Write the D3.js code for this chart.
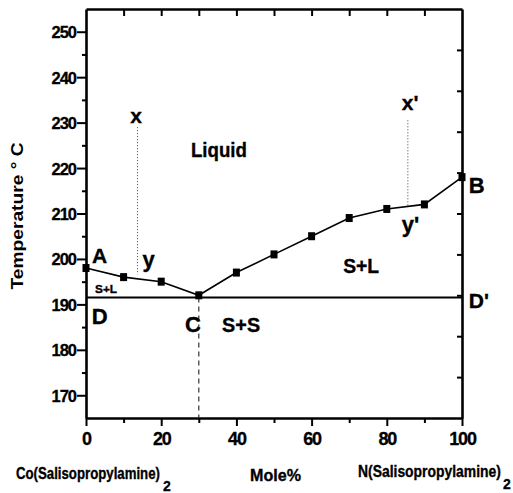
<!DOCTYPE html>
<html>
<head>
<meta charset="utf-8">
<script src="https://cdn.jsdelivr.net/npm/d3@7"></script>
<style>
  html, body { margin: 0; padding: 0; background: #fff; }
  svg { display: block; font-family: "Liberation Sans", Arial, sans-serif; font-weight: bold; }
</style>
</head>
<body>
<svg id="chart" width="513" height="493"></svg>
<script>
// ---- data ----
const molePct = [0, 10, 20, 30, 40, 50, 60, 70, 80, 90, 100];
const temps   = [198, 196, 195, 192, 197, 201, 205, 209, 211, 212, 218];
const eutecticT = 191.5;
const eutecticX = 30;
const xMajorTicks = [0, 20, 40, 60, 80, 100];
const xMinorTicks = [10, 30, 50, 70, 90];
const xTopTicks = [10, 20, 30, 40, 50, 60, 70, 80, 90];
const yMajorTicks = [170, 180, 190, 200, 210, 220, 230, 240, 250];
const yMinorTicks = [175, 185, 195, 205, 215, 225, 235, 245];
const rightTicks = [1, 2, 3, 4, 5, 6, 7, 8, 9];
const tieLeft  = { m: 13.7, t1: 229, t2: 196.6 };
const tieRight = { m: 85.6, t1: 230.5, t2: 211.6 };

// ---- layout ----
const margin = { left: 86, top: 9, right: 51, bottom: 75 };
const W = 513, H = 493;
const iw = W - margin.left - margin.right;   // 376
const ih = H - margin.top - margin.bottom;   // 409

const svg = d3.select("#chart");
const g = svg.append("g").attr("transform", `translate(${margin.left},${margin.top})`);

const x = d3.scaleLinear().domain([0, 100]).range([0, iw]);
const y = d3.scaleLinear().domain([165, 255]).range([ih, 0]);
const yR = d3.scaleLinear().domain([0, 10]).range([ih, 0]);

const AX_W = 2.6;

// squeeze a text horizontally to a target width (anchor start), using a transform
function fitText(parent, txt, x0, y0, fs, width, extra) {
  const t = parent.append("text").attr("x", 0).attr("y", 0)
    .attr("font-size", fs).attr("fill", "#000")
    .attr("stroke", "#000").attr("stroke-width", 0.35)
    .text(txt);
  const w = t.node().getComputedTextLength();
  const k = width / w;
  t.attr("transform", `translate(${x0},${y0}) scale(${k},1)`);
  return t;
}

// minor ticks
g.append("g").call(d3.axisLeft(y).tickValues(yMinorTicks).tickSize(4).tickSizeOuter(0).tickFormat(""))
  .call(s => s.select(".domain").remove())
  .selectAll("line").attr("stroke-width", 2);
g.append("g").attr("transform", `translate(0,${ih})`)
  .call(d3.axisBottom(x).tickValues(xMinorTicks).tickSize(5).tickSizeOuter(0).tickFormat(""))
  .call(s => s.select(".domain").remove())
  .selectAll("line").attr("stroke-width", 2);

// top axis (inward ticks)
g.append("g")
  .call(d3.axisTop(x).tickValues(xTopTicks).tickSize(-7).tickSizeOuter(0).tickFormat(""))
  .call(s => s.select(".domain").attr("stroke-width", AX_W))
  .selectAll("line").attr("stroke-width", 2);

// right axis (inward ticks)
g.append("g").attr("transform", `translate(${iw},0)`)
  .call(d3.axisRight(yR).tickValues(rightTicks).tickSize(-5).tickSizeOuter(0).tickFormat(""))
  .call(s => s.select(".domain").attr("stroke-width", AX_W))
  .selectAll("line").attr("stroke-width", 2);

// left axis
const yAx = g.append("g")
  .call(d3.axisLeft(y).tickValues(yMajorTicks).tickSize(9).tickPadding(1).tickSizeOuter(0));
yAx.select(".domain").attr("stroke-width", AX_W);
yAx.selectAll("line").attr("stroke-width", 2);
yAx.selectAll("text").attr("font-size", 16.5).attr("font-family", "Liberation Sans, Arial, sans-serif")
  .attr("font-weight", "bold").attr("letter-spacing", -1).attr("fill", "#000")
  .attr("stroke", "#000").attr("stroke-width", 0.3).attr("dy", "0.36em");

// bottom axis
const xAx = g.append("g").attr("transform", `translate(0,${ih})`)
  .call(d3.axisBottom(x).tickValues(xMajorTicks).tickSize(8).tickPadding(6).tickSizeOuter(0));
xAx.select(".domain").attr("stroke-width", AX_W);
xAx.selectAll("line").attr("stroke-width", 2);
xAx.selectAll("text").attr("font-size", 18).attr("font-family", "Liberation Sans, Arial, sans-serif")
  .attr("font-weight", "bold").attr("letter-spacing", -1.2).attr("fill", "#000")
  .attr("stroke", "#000").attr("stroke-width", 0.3);

// eutectic horizontal line
g.append("line")
  .attr("x1", x(0)).attr("x2", x(100))
  .attr("y1", y(eutecticT)).attr("y2", y(eutecticT))
  .attr("stroke", "#000").attr("stroke-width", 2);

// dashed vertical from C
g.append("line")
  .attr("x1", x(eutecticX)).attr("x2", x(eutecticX))
  .attr("y1", y(eutecticT)).attr("y2", y(165))
  .attr("stroke", "#333").attr("stroke-width", 1.2).attr("stroke-dasharray", "5,4");

// dotted tie lines
[tieLeft, tieRight].forEach(d => {
  g.append("line")
    .attr("x1", x(d.m)).attr("x2", x(d.m))
    .attr("y1", y(d.t1)).attr("y2", y(d.t2))
    .attr("stroke", "#444").attr("stroke-width", 1).attr("stroke-dasharray", "1,2");
});

// liquidus line
const pts = molePct.map((m, i) => [m, temps[i]]);
g.append("path")
  .attr("d", d3.line().x(d => x(d[0])).y(d => y(d[1]))(pts))
  .attr("fill", "none").attr("stroke", "#000").attr("stroke-width", 1.6);

// markers
g.selectAll("rect.mk").data(pts).enter().append("rect").attr("class", "mk")
  .attr("x", d => x(d[0]) - 3.5).attr("y", d => y(d[1]) - 4)
  .attr("width", 7).attr("height", 8).attr("fill", "#000");

// region labels (data coordinates)
const labels = [
  { t: "x",      m: 13.3, T: 229.9, fs: 21, anchor: "middle" },
  { t: "Liquid", m: 27.9, T: 222.4, fs: 21, len: 56 },
  { t: "A",      m: 1.6,  T: 199.2, fs: 21 },
  { t: "y",      m: 15.0, T: 198.3, fs: 22 },
  { t: "S+L",    m: 2.4,  T: 192.5, fs: 11.5, len: 22 },
  { t: "D",      m: 1.5,  T: 185.6, fs: 22 },
  { t: "C",      m: 26.3, T: 184.0, fs: 22 },
  { t: "S+S",    m: 36.2, T: 184.0, fs: 21, len: 38 },
  { t: "S+L",    m: 68.4, T: 196.9, fs: 21, len: 36 },
  { t: "D'",     m: 101.8,T: 189.1, fs: 21 },
  { t: "B",      m: 101.8,T: 214.5, fs: 22 },
  { t: "x'",     m: 84.0, T: 232.7, fs: 21 },
  { t: "y'",     m: 84.0, T: 206.0, fs: 22 }
];
labels.forEach(l => {
  if (l.len) {
    fitText(g, l.t, x(l.m), y(l.T), l.fs, l.len);
  } else {
    g.append("text")
      .attr("x", x(l.m)).attr("y", y(l.T))
      .attr("font-size", l.fs).attr("fill", "#000")
      .attr("stroke", "#000").attr("stroke-width", 0.35)
      .attr("text-anchor", l.anchor || "start")
      .text(l.t);
  }
});

// y-axis title
svg.append("text")
  .attr("transform", "translate(23,216) rotate(-90)")
  .attr("text-anchor", "middle")
  .attr("font-size", 16).attr("fill", "#000")
  .attr("textLength", 147).attr("lengthAdjust", "spacingAndGlyphs")
  .text("Temperature \u00B0 C");

// bottom composition labels
function subLabel(txt, x0, len, base, subX) {
  fitText(svg, txt, x0, base, 17, len);
  svg.append("text").attr("x", subX).attr("y", base + 12)
    .attr("font-size", 14).attr("fill", "#000")
    .attr("stroke", "#000").attr("stroke-width", 0.3).text("2");
}
subLabel("Co(Salisopropylamine)", 16, 144, 479, 163);
subLabel("N(Salisopropylamine)", 358, 143, 477, 503);

fitText(svg, "Mole%", 250, 481, 17, 51);
</script>
</body>
</html>
